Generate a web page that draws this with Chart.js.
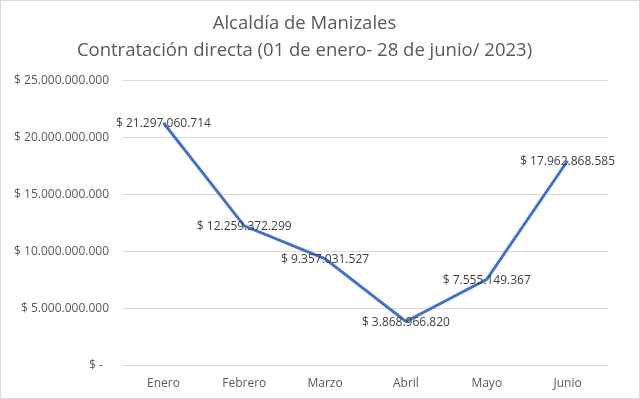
<!DOCTYPE html>
<html>
<head>
<meta charset="utf-8">
<script src="https://cdn.jsdelivr.net/npm/chart.js@4/dist/chart.umd.min.js"></script>
<style>
    html, body { margin: 0; padding: 0; background: #ffffff; }
    #wrap {
        position: relative;
        width: 638px;
        height: 397px;
        border: 1px solid #d9d9d9;
    }
</style>
</head>
<body>
<div id="wrap"><canvas id="chart" width="638" height="397"></canvas></div>
<script>
const titleLines = [
    'Alcaldía de Manizales',
    'Contratación directa (01 de enero- 28 de junio/ 2023)',
];
const months = ['Enero', 'Febrero', 'Marzo', 'Abril', 'Mayo', 'Junio'];
const amounts = [
    21297060714, 12259372299, 9357031527, 3868966820, 7555149367, 17962868585,
];
const yTicks = [0, 5000000000, 10000000000, 15000000000, 20000000000, 25000000000];

const textFont = "'Open Sans', 'Noto Sans', sans-serif";

function formatPesos(value) {
    if (value === 0) {
        return '$ -  ';
    }
    return '$ ' + Math.round(value).toString().replace(/\B(?=(\d{3})+(?!\d))/g, '.');
}

// etiquetas centradas sobre cada punto, como en Excel
const pointLabels = {
    id: 'pointLabels',
    afterDatasetsDraw(chart) {
        const { ctx } = chart;
        const meta = chart.getDatasetMeta(0);
        ctx.save();
        ctx.font = '12px ' + textFont;
        ctx.fillStyle = '#404040';
        ctx.textAlign = 'center';
        ctx.textBaseline = 'middle';
        meta.data.forEach((point, i) => {
            ctx.fillText(formatPesos(amounts[i]), point.x, point.y + 1);
        });
        ctx.restore();
    },
};

new Chart(document.getElementById('chart'), {
    type: 'line',
    data: {
        labels: months,
        datasets: [
            {
                data: amounts,
                borderColor: '#4472c4',
                borderWidth: 3,
                pointRadius: 0,
                tension: 0,
                fill: false,
            },
        ],
    },
    options: {
        responsive: false,
        animation: false,
        layout: { padding: { left: 0, right: 31, top: 10, bottom: 4 } },
        plugins: {
            legend: { display: false },
            tooltip: { enabled: false },
            title: {
                display: true,
                text: titleLines,
                color: '#595959',
                font: { family: textFont, size: 18.5, weight: 'normal', lineHeight: 1.42 },
                padding: { top: 0, bottom: 17 },
            },
        },
        scales: {
            x: {
                offset: true,
                grid: { display: false },
                border: { display: false },
                ticks: {
                    color: '#595959',
                    font: { family: textFont, size: 12 },
                    padding: 3,
                },
            },
            y: {
                min: 0,
                max: 25000000000,
                afterBuildTicks(scale) {
                    scale.ticks = yTicks.map((v) => ({ value: v }));
                },
                afterFit(scale) {
                    scale.width = 122;
                },
                grid: { color: '#d9d9d9', drawTicks: false },
                border: { display: false },
                ticks: {
                    color: '#595959',
                    font: { family: textFont, size: 12 },
                    padding: 14,
                    callback: (value) => formatPesos(value),
                },
            },
        },
    },
    plugins: [pointLabels],
});
</script>
</body>
</html>
